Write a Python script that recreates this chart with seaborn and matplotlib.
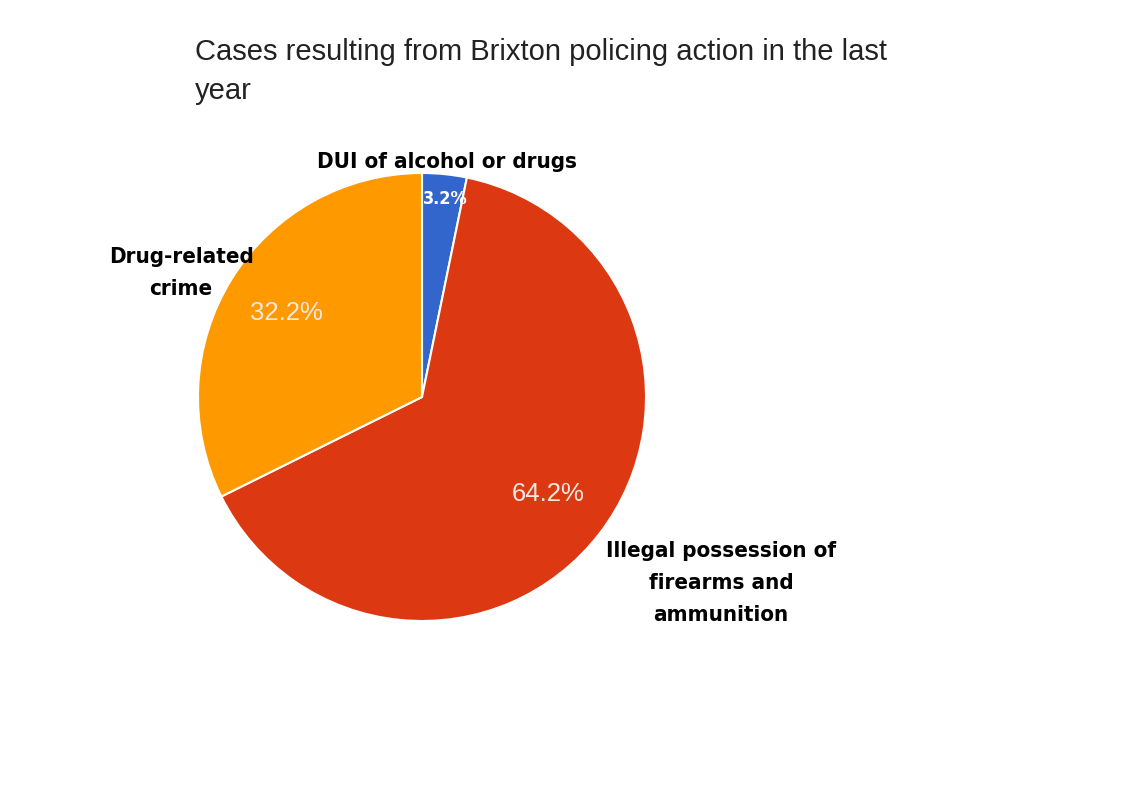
import matplotlib
matplotlib.use("Agg")
import matplotlib.pyplot as plt
import seaborn as sns
import numpy as np

# data
categories = ["DUI of alcohol or drugs",
              "Illegal possession of\nfirearms and\nammunition",
              "Drug-related\ncrime"]
shares = [3.2, 64.2, 32.2]
slice_colors = ["#3366cc", "#dc3912", "#ff9900"]
title = "Cases resulting from Brixton policing action in the last\nyear"

sns.set_style("white")
plt.rcParams['font.family'] = ['Liberation Sans', 'DejaVu Sans']

W, H = 1123, 794
fig = plt.figure(figsize=(W / 100, H / 100), dpi=100)

# pie centre and radius in pixels
cx, cy, r = 422, 397, 224
ax = fig.add_axes([(cx - r) / W, (H - cy - r) / H, 2 * r / W, 2 * r / H])

palette = sns.color_palette(slice_colors)
wedges, texts, autotexts = ax.pie(
    shares, colors=palette, startangle=90, counterclock=False,
    autopct='%.1f%%', pctdistance=0.71, radius=1.0,
    wedgeprops=dict(edgecolor='white', linewidth=1.5),
    textprops=dict(color='white', fontsize=18.5))

# show the shares as published (they don't add to exactly 100)
for t, v in zip(autotexts, shares):
    t.set_text(f"{v:.1f}%")

# small slice label sits near the rim
w0 = wedges[0]
ang = np.deg2rad((w0.theta1 + w0.theta2) / 2)
autotexts[0].set_position((0.89 * np.cos(ang) + 0.015, 0.89 * np.sin(ang)))
autotexts[0].set_fontsize(13)
autotexts[0].set_fontweight('bold')
autotexts[0].set_fontstretch('condensed')
autotexts[0].set_family(['DejaVu Sans'])
for t in autotexts[1:]:
    t.set_color('#f8e8e0')

ax.set_xlim(-1, 1)
ax.set_ylim(-1, 1)
ax.set_aspect('equal')
ax.axis('off')

# category labels (pixel positions converted to data units)
label_pos = [(447, 162), (721, 583), (181, 273)]
for name, (px, py) in zip(categories, label_pos):
    ax.text((px - cx) / r, (cy - py) / r, name, ha='center', va='center',
            fontsize=16, fontweight='bold', fontstretch='condensed',
            color='black', linespacing=1.78, family=['DejaVu Sans'])

fig.text(195 / W, 1 - 38 / H, title, ha='left', va='top', fontsize=21,
         color='#222222', linespacing=1.5)

fig.savefig("out.png", dpi=100, facecolor='white')
